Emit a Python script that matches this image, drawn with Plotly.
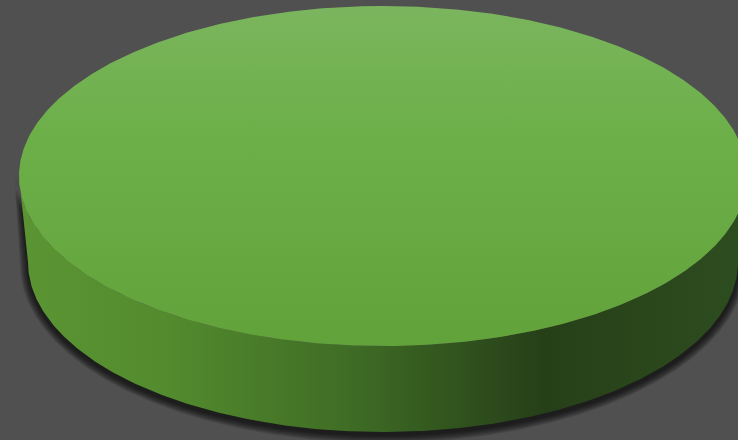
import numpy as np
import plotly.graph_objects as go

# Data: a single category holding the whole pie
categories = ["Series 1"]
values = [100]
slice_colors = ["#6aad45"]

# Layout / styling constants (pixel space of the 738x440 canvas)
W, H = 738, 440
CX, CY = 383, 176      # centre of top face
RX, RY = 364, 170      # radii of top face
RXB = 355              # horizontal radius of the base (perspective)
DEPTH = 86             # thickness of the disc
BG = "#505050"

fig = go.Figure()

total = float(sum(values))
start = 0.0
for cat, val, col in zip(categories, values, slice_colors):
    frac = val / total
    a0 = np.pi / 2 - start * 2 * np.pi
    a1 = np.pi / 2 - (start + frac) * 2 * np.pi
    start += frac

    # front side: visible rim of the slice (lower half of the ellipse)
    t = np.linspace(0, np.pi, 361)
    top_x = CX + RX * np.cos(t)
    top_y = CY + RY * np.sin(t)
    bot_x = (CX + RXB * np.cos(t))[::-1]
    bot_y = (CY + DEPTH + RY * np.sin(t))[::-1]
    side_x = np.concatenate([top_x, bot_x, top_x[:1]])
    side_y = np.concatenate([top_y, bot_y, top_y[:1]])

    # drop shadow (soft, several translucent layers)
    for k in range(1, 9):
        g = k * 1.0
        sx_t = CX + (RX + g * 0.6) * np.cos(t)
        sx_b = CX + (RXB + g) * np.cos(t)
        sy_top = CY + (RY + g) * np.sin(t)
        sy_bot = CY + DEPTH + 3 + (RY + g) * np.sin(t)
        shx = np.concatenate([sx_t, sx_b[::-1], sx_t[:1]])
        shy = np.concatenate([sy_top, sy_bot[::-1], sy_top[:1]])
        fig.add_trace(go.Scatter(
            x=shx, y=shy, mode="lines", fill="toself",
            fillcolor="rgba(0,0,0,0.11)", line=dict(width=0),
            hoverinfo="skip", showlegend=False))

    fig.add_trace(go.Scatter(
        x=side_x, y=side_y, mode="lines", fill="toself",
        line=dict(width=0), hoverinfo="skip", showlegend=False,
        fillgradient=dict(
            type="horizontal",
            colorscale=[[0.0, "#5b9533"], [0.2, "#538b2e"], [0.45, "#3f6d25"],
                        [0.72, "#263f18"], [0.85, "#2a461b"], [1.0, "#2d4d1f"]])))

    # top face
    tt = np.linspace(a0, a1, 721)
    fx = CX + RX * np.cos(tt)
    fy = CY - RY * np.sin(tt)
    fig.add_trace(go.Scatter(
        x=fx, y=fy, mode="lines", fill="toself", name=cat,
        line=dict(width=0), hoverinfo="name", showlegend=False,
        fillgradient=dict(
            type="vertical",
            colorscale=[[0.0, "#62a23a"], [0.65, "#6db04a"], [1.0, "#7bb55e"]])))

fig.update_layout(
    width=W, height=H,
    margin=dict(l=0, r=0, t=0, b=0),
    paper_bgcolor=BG, plot_bgcolor=BG,
    xaxis=dict(range=[0, W], visible=False, fixedrange=True),
    yaxis=dict(range=[H, 0], visible=False, fixedrange=True),
    showlegend=False,
)

fig.write_html(
    "out.html",
    config={"displayModeBar": False},
    post_script="document.body.style.margin='0';document.body.style.overflow='hidden';",
)
